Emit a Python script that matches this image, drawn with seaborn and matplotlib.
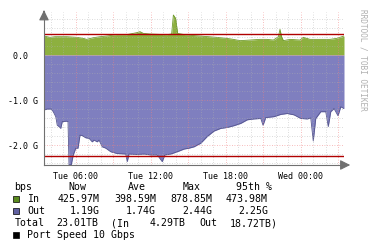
import numpy as np
import pandas as pd
import matplotlib
matplotlib.use("Agg")
import matplotlib.pyplot as plt
import seaborn as sns

# ---- data (hours since Tue 00:00, values in Gbps) ----
in_hours = [3.48, 3.96, 4.36, 5.29, 6.09, 6.63, 6.89, 7.43, 7.96, 8.49, 9.29, 10.09,
            10.89, 11.16, 11.43, 11.96, 13.29, 13.69, 13.83, 14.01, 14.17, 14.89,
            15.96, 17.29, 18.09, 18.63, 19.16, 19.96, 20.76, 21.29, 21.83, 22.23,
            22.36, 22.49, 22.63, 23.16, 23.96, 24.23, 24.76, 25.56, 26.36, 26.89, 27.48]
in_vals = [0.422, 0.393, 0.407, 0.407, 0.393, 0.370, 0.348, 0.385, 0.407, 0.422,
           0.452, 0.452, 0.496, 0.519, 0.481, 0.467, 0.452, 0.467, 0.889, 0.815,
           0.481, 0.444, 0.422, 0.393, 0.370, 0.348, 0.319, 0.333, 0.348, 0.348,
           0.333, 0.407, 0.570, 0.407, 0.319, 0.348, 0.333, 0.393, 0.348, 0.348,
           0.348, 0.370, 0.422]

out_hours = [3.48, 3.74, 4.06, 4.22, 4.42, 4.54, 4.68, 4.82, 4.94, 5.30, 5.40, 5.48,
             5.66, 5.82, 6.02, 6.20, 6.36, 6.54, 6.82, 7.08, 7.34, 7.48, 7.74, 7.88,
             8.14, 8.42, 8.82, 9.34, 10.02, 10.14, 10.28, 10.94, 11.48, 12.02, 12.54,
             12.94, 13.14, 13.62, 14.14, 14.68, 15.08, 15.48, 16.02, 16.54, 17.08,
             17.62, 18.14, 18.68, 19.22, 19.74, 20.28, 20.82, 21.0, 21.22, 21.88,
             22.42, 22.94, 23.48, 24.02, 24.54, 24.82, 25.02, 25.22, 25.62, 26.02,
             26.22, 26.42, 26.68, 27.0, 27.22, 27.48]
out_vals = [-1.22, -1.20, -1.20, -1.26, -1.37, -1.56, -1.59, -1.63, -1.48, -1.47,
            -1.48, -2.44, -2.44, -2.22, -2.07, -2.07, -1.78, -1.79, -1.84, -1.85,
            -1.93, -1.89, -1.93, -1.89, -2.04, -2.07, -2.15, -2.19, -2.20, -2.37,
            -2.20, -2.21, -2.20, -2.22, -2.22, -2.37, -2.22, -2.20, -2.15, -2.09,
            -2.07, -2.04, -1.96, -1.81, -1.69, -1.63, -1.61, -1.57, -1.52, -1.44,
            -1.42, -1.41, -1.56, -1.39, -1.37, -1.32, -1.30, -1.33, -1.41, -1.42,
            -1.40, -1.91, -1.41, -1.26, -1.26, -1.59, -1.26, -1.19, -1.35, -1.15,
            -1.19]

pct95_in = 0.474
pct95_out = -2.25

x_tick_pos = [6, 12, 18, 24]
x_tick_labels = ["Tue 06:00", "Tue 12:00", "Tue 18:00", "Wed 00:00"]
y_tick_pos = [0.0, -1.0, -2.0]
y_tick_labels = ["0.0  ", "-1.0 G", "-2.0 G"]

legend_header = ["bps", "Now", "Ave", "Max", "95th %"]
in_stats = ["425.97M", "398.59M", "878.85M", "473.98M"]
out_stats = ["1.19G", "1.74G", "2.44G", "2.25G"]
total_row = ["Total", "23.01TB", "(In", "4.29TB", "Out", "18.72TB)"]
port_text = "Port Speed 10 Gbps"

df_in = pd.DataFrame({"h": in_hours, "v": in_vals})
df_out = pd.DataFrame({"h": out_hours, "v": out_vals})

sns.set_theme(style="white")
plt.rcParams["font.family"] = ["DejaVu Sans Mono", "DejaVu Sans"]

W, H = 375, 248
X0, X1 = 3.48, 27.48
Y0, Y1 = -2.444, 0.956
fig = plt.figure(figsize=(W / 100, H / 100), dpi=100)
fig.patch.set_facecolor("white")
ax = fig.add_axes([44 / W, 83 / H, 300 / W, 153 / H])
ax.set_facecolor("white")

GREEN = "#8db03f"
PURPLE = "#7f7fbf"

ax.fill_between(df_in["h"], 0, df_in["v"], color=GREEN, lw=0, zorder=1)
ax.fill_between(df_out["h"], 0, df_out["v"], color=PURPLE, lw=0, zorder=1)
sns.lineplot(data=df_in, x="h", y="v", ax=ax, color="#6e9a2a", lw=0.6, zorder=2)
sns.lineplot(data=df_out, x="h", y="v", ax=ax, color="#55558f", lw=0.6, zorder=2)

ax.set_xlim(X0, X1)
ax.set_ylim(Y0, Y1)

# grid
for h in np.arange(4, 28, 1):
    if h % 3 == 0:
        continue
    ax.axvline(h, color="#b0b0b0", lw=0.6, ls=(0, (1, 2)), alpha=0.6, zorder=3)
for h in np.arange(6, 28, 3):
    ax.axvline(h, color="#f08080", lw=0.6, ls=(0, (1, 2)), alpha=0.7, zorder=3)
for v in np.arange(-2.4, 0.95, 0.2):
    if abs(v - round(v)) < 1e-6:
        continue
    ax.axhline(v, color="#b0b0b0", lw=0.6, ls=(0, (1, 2)), alpha=0.6, zorder=3)
for v in y_tick_pos:
    ax.axhline(v, color="#f08080", lw=0.6, ls=(0, (1, 2)), alpha=0.7, zorder=3)

ax.axhline(pct95_in, color="#b00000", lw=1.0, zorder=4)
ax.axhline(pct95_out, color="#b00000", lw=1.0, zorder=4)

for s in ["top", "right"]:
    ax.spines[s].set_visible(False)
for s in ["left", "bottom"]:
    ax.spines[s].set_color("#707070")
    ax.spines[s].set_linewidth(0.8)
    ax.spines[s].set_zorder(5)

# arrows
ax.annotate("", xy=(X1 + 0.72, Y0), xytext=(X1 - 0.2, Y0),
            xycoords="data", annotation_clip=False,
            arrowprops=dict(arrowstyle="-|>,head_length=0.5,head_width=0.25",
                            color="#707070", lw=0.8))
ax.annotate("", xy=(X0, Y1 + 0.1), xytext=(X0, Y1 - 0.05),
            xycoords="data", annotation_clip=False,
            arrowprops=dict(arrowstyle="-|>,head_length=0.5,head_width=0.25",
                            color="#707070", lw=0.8))

ax.set_xticks(x_tick_pos)
ax.set_xticklabels(x_tick_labels)
ax.set_yticks(y_tick_pos)
ax.set_yticklabels(y_tick_labels)
ax.tick_params(axis="x", length=0, pad=5, labelsize=6.0, colors="black")
ax.tick_params(axis="y", length=0, pad=4, labelsize=6.0, colors="black")
ax.set_xlabel("")
ax.set_ylabel("")

# side credit
fig.text(363 / W, 1 - 60 / H, "RRDTOOL / TOBI OETIKER", rotation=270,
         ha="center", va="center", fontsize=5.6, color="#b0b0b0")

# legend block
def ftext(x, y, s, ha="left", **kw):
    fig.text(x / W, 1 - y / H, s, ha=ha, va="baseline", fontsize=7.1,
             color="black", **kw)

b = [190.5, 202.5, 214.5, 226.5, 238.5]
for x, s in zip([14, 68, 128, 183, 236], legend_header):
    ftext(x, b[0], s)

def square(x, y, c):
    fig.patches.append(plt.Rectangle((x / W, 1 - (y + 6) / H), 6 / W, 6 / H,
                                     transform=fig.transFigure, facecolor=c,
                                     edgecolor="black", lw=0.5))

square(13, b[1] - 7, "#5a8a1e")
ftext(27, b[1], "In")
for x, s in zip([100, 156, 212, 268], in_stats):
    ftext(x, b[1], s, ha="right")

square(13, b[2] - 7, "#6060a0")
ftext(27, b[2], "Out")
for x, s in zip([100, 156, 212, 268], out_stats):
    ftext(x, b[2], s, ha="right")

for x, s in zip([15, 56, 111, 150, 199, 230], total_row):
    ftext(x, b[3], s)

square(13, b[4] - 7, "black")
ftext(27, b[4], port_text)

fig.savefig("out.png", dpi=100, facecolor="white")
